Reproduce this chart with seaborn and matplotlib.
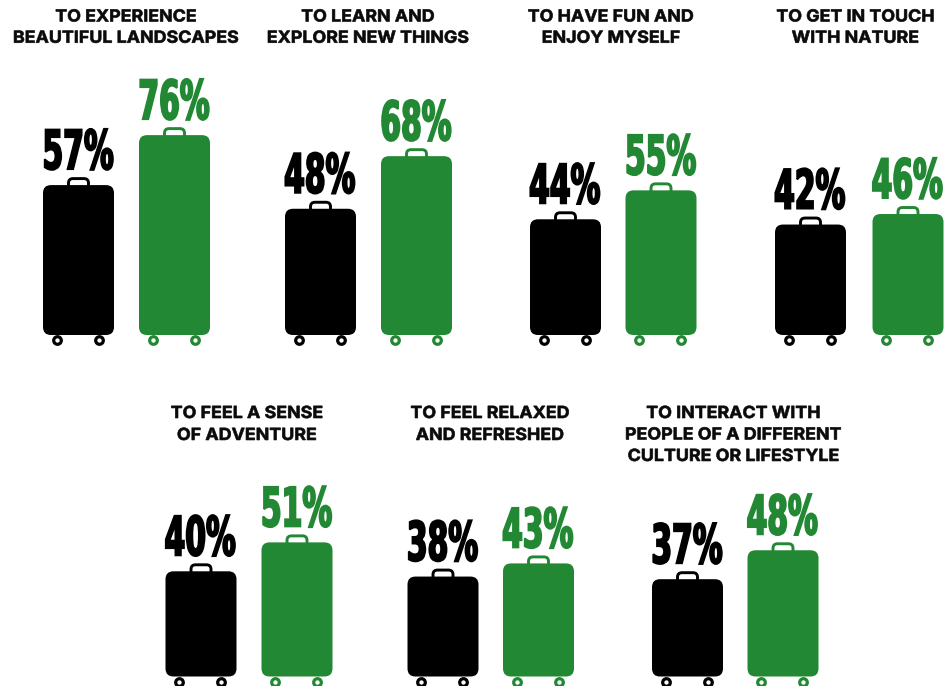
import matplotlib
matplotlib.use("Agg")
import matplotlib.pyplot as plt
import pandas as pd
import seaborn as sns
from matplotlib.patches import FancyBboxPatch
from matplotlib.patheffects import AbstractPathEffect
from matplotlib.transforms import Affine2D

# Survey shares by travel motivation
titles = [
    "TO EXPERIENCE\nBEAUTIFUL LANDSCAPES",
    "TO LEARN AND\nEXPLORE NEW THINGS",
    "TO HAVE FUN AND\nENJOY MYSELF",
    "TO GET IN TOUCH\nWITH NATURE",
    "TO FEEL A SENSE\nOF ADVENTURE",
    "TO FEEL RELAXED\nAND REFRESHED",
    "TO INTERACT WITH\nPEOPLE OF A DIFFERENT\nCULTURE OR LIFESTYLE",
]
first_series = [57, 48, 44, 42, 40, 38, 37]
second_series = [76, 68, 55, 46, 51, 43, 48]
series_names = ["first", "second"]

# Layout, in pixels of the 944x686 canvas
W, H = 944, 686
BLACK, GREEN = "#000000", "#228833"
bar_centres = [78.5, 320.5, 565.5, 810.5, 201, 443, 687.5]
bar_steps = [96, 96, 95.5, 97.5, 96, 95.5, 95.5]
baselines = [335, 335, 335, 335, 676.5, 676.5, 676.5]
title_centres = [126, 368, 611, 855.5, 247, 490, 733.5]
title_tops = [9.5, 9.5, 9.5, 9.5, 406, 406, 406]
title_spacing = [1.52, 1.52, 1.52, 1.52, 1.58, 1.58, 1.54]
BAR_WIDTH = 71.0     # px
PX_PER_UNIT = 2.63   # px per percentage point
AX_SPAN = 110        # y-range of each axes, in percentage points
Y_FLOOR = -5


class Squeeze(AbstractPathEffect):
    """Rescale glyphs horizontally about their centre and thicken them."""

    def __init__(self, sx, stroke):
        super().__init__()
        self.sx, self.stroke = sx, stroke

    def draw_path(self, renderer, gc, tpath, affine, rgbFace=None):
        g = renderer.new_gc()
        g.copy_properties(gc)
        g.set_foreground(rgbFace)
        g.set_linewidth(self.stroke)
        g.set_joinstyle("miter")
        ext = tpath.get_extents()
        cx = (ext.x0 + ext.x1) / 2
        squeeze = Affine2D().translate(-cx, 0).scale(self.sx, 1).translate(cx, 0)
        renderer.draw_path(g, tpath, squeeze + affine, rgbFace)
        g.restore()


sns.set_theme(style="white")
plt.rcParams["font.family"] = ["Inter", "DejaVu Sans"]
fig = plt.figure(figsize=(W / 100, H / 100), dpi=100)

big_fx = [Squeeze(0.55, 1.4)]
title_fx = [Squeeze(1.07, 0.45)]

for i, title in enumerate(titles):
    step = bar_steps[i]
    left = bar_centres[i] - step / 2
    bottom = baselines[i] + Y_FLOOR * -PX_PER_UNIT
    ax = fig.add_axes([left / W, 1 - bottom / H, 2 * step / W, AX_SPAN * PX_PER_UNIT / H])
    frame = pd.DataFrame({"series": series_names, "share": [first_series[i], second_series[i]]})
    sns.barplot(
        data=frame, x="series", y="share", hue="series", palette=[BLACK, GREEN],
        width=BAR_WIDTH / step, saturation=1, legend=False, ax=ax,
    )
    ax.set_xlim(-0.5, 1.5)
    ax.set_ylim(Y_FLOOR, Y_FLOOR + AX_SPAN)
    ax.axis("off")

    rx = 8 / step
    ry = 8 / PX_PER_UNIT
    bars = sorted(ax.patches, key=lambda p: p.get_x())
    for bar in bars:
        x, w, v = bar.get_x(), bar.get_width(), bar.get_height()
        colour = bar.get_facecolor()
        bar.set_visible(False)
        mid = x + w / 2

        # Rounded suitcase body
        ax.add_patch(FancyBboxPatch(
            (x + rx, ry), w - 2 * rx, v - 2 * ry,
            boxstyle=f"round,pad={rx},rounding_size={rx}",
            mutation_aspect=ry / rx, fc=colour, ec="none", zorder=3, clip_on=False,
        ))
        # Carry handle rising behind the top edge
        hw = 20 / step
        hrx, hry = 4.5 / step, 4.5 / PX_PER_UNIT
        y0, y1 = v - 6 / PX_PER_UNIT, v + 6.5 / PX_PER_UNIT
        ax.add_patch(FancyBboxPatch(
            (mid - hw / 2 + hrx, y0 + hry), hw - 2 * hrx, y1 - y0 - 2 * hry,
            boxstyle=f"round,pad={hrx},rounding_size={hrx}",
            mutation_aspect=hry / hrx, fc="none", ec=colour, lw=2.1, zorder=2, clip_on=False,
        ))
        # Wheels under the body
        ax.scatter(
            [mid - 22 / step, mid + 20 / step], [-5.4 / PX_PER_UNIT] * 2,
            s=30, facecolor="white", edgecolor=colour, linewidth=2.3, zorder=4, clip_on=False,
        )
        ax.annotate(
            f"{v:.0f}%", (mid, v), xytext=(-1, 16), textcoords="offset pixels",
            ha="center", va="baseline", color=colour, fontsize=39,
            family=["DejaVu Sans"], fontweight="bold", path_effects=big_fx,
            annotation_clip=False, zorder=5,
        )

    fig.text(
        title_centres[i] / W, 1 - title_tops[i] / H, title, ha="center", va="top",
        color="#0a0a0a", fontsize=12, fontweight="bold", linespacing=title_spacing[i],
        path_effects=title_fx,
    )

fig.savefig("out.png", dpi=100, facecolor="white")
